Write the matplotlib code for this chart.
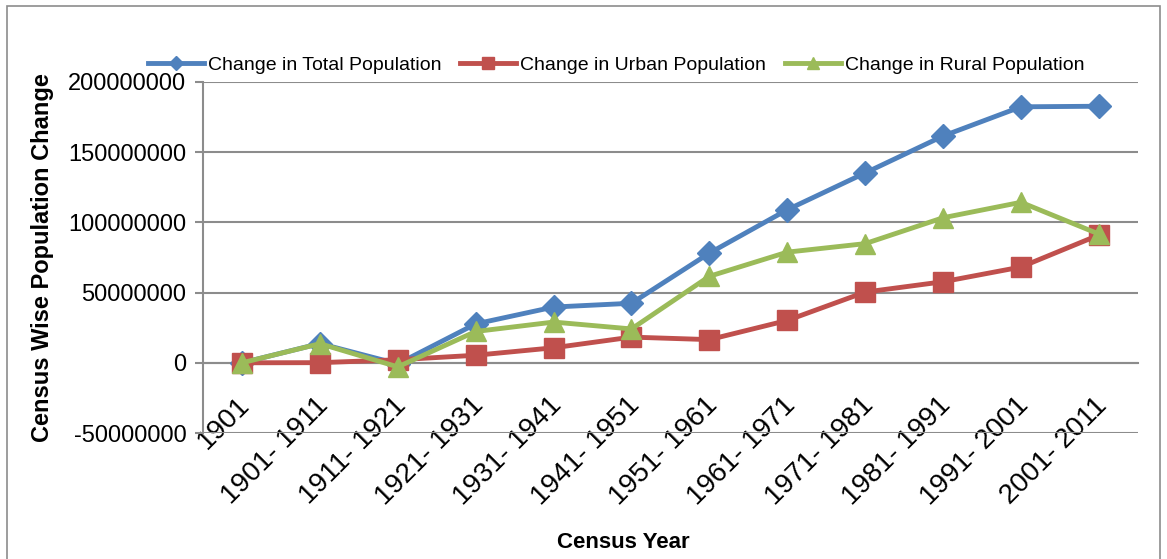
import matplotlib.pyplot as plt
import matplotlib.transforms as mtransforms
from matplotlib.patches import Rectangle
from matplotlib.ticker import MultipleLocator

plt.rcParams['font.family'] = ['Liberation Sans', 'DejaVu Sans']

# Census periods
years = ["1901", "1901- 1911", "1911- 1921", "1921- 1931", "1931- 1941",
         "1941- 1951", "1951- 1961", "1961- 1971", "1971- 1981",
         "1981- 1991", "1991- 2001", "2001- 2011"]

# population change per decade (persons)
total_change = [0, 13700000, -770000, 27700000, 39700000, 42400000,
                78100000, 109000000, 135200000, 161500000, 182300000,
                182700000]
urban_change = [0, 90000, 2150000, 5370000, 10690000, 18290000,
                16500000, 30170000, 50350000, 57720000, 68200000,
                91000000]
rural_change = [0, 13600000, -2900000, 22300000, 29000000, 24100000,
                61600000, 78800000, 84850000, 103300000, 114300000,
                91700000]

blue = "#4F81BD"
red = "#C0504D"
green = "#9BBB59"
grey = "#8C8C8C"

fig = plt.figure(figsize=(11.67, 5.59), dpi=100)
ax = fig.add_axes([0.174, 0.2254, 0.801, 0.628])

x = range(len(years))
ax.plot(x, total_change, color=blue, lw=3.5, marker="D", ms=12,
        label="Change in Total Population", zorder=3)
ax.plot(x, urban_change, color=red, lw=3.5, marker="s", ms=14,
        label="Change in Urban Population", zorder=4)
ax.plot(x, rural_change, color=green, lw=3.5, marker="^", ms=14,
        label="Change in Rural Population", zorder=5)

ax.set_xlim(-0.5, len(years) - 0.5)
ax.set_ylim(-50000000, 200000000)
ax.yaxis.set_major_locator(MultipleLocator(50000000))
ax.yaxis.set_major_formatter(lambda v, p: "%d" % v)
ax.grid(axis="y", color=grey, lw=1.5)
ax.set_axisbelow(True)

for s in ["top", "right"]:
    ax.spines[s].set_visible(False)
ax.spines["left"].set_color(grey)
ax.spines["left"].set_linewidth(1.5)
ax.spines["bottom"].set_position(("data", 0))
ax.spines["bottom"].set_color(grey)
ax.spines["bottom"].set_linewidth(1.5)

ax.tick_params(axis="y", labelsize=17, length=6, width=1.5, color=grey,
               direction="out", pad=6)
ax.set_xticks(list(x))
ax.set_xticklabels(years, rotation=45, ha="right", va="center",
                   rotation_mode="anchor", fontsize=20)
ax.tick_params(axis="x", length=0, pad=28)
shift = mtransforms.ScaledTranslation(4 / 100, 0, fig.dpi_scale_trans)
for lab in ax.get_xticklabels():
    lab.set_transform(lab.get_transform() + shift)

ax.set_ylabel("Census Wise Population Change", fontsize=17,
              fontweight="bold", labelpad=10)
fig.text(0.534, 0.029, "Census Year", fontsize=16, fontweight="bold",
         ha="center", va="center")

ax.legend(loc="center", bbox_to_anchor=(0.528, 0.883),
          bbox_transform=fig.transFigure, ncol=3, frameon=False,
          fontsize=14, handlelength=2.9, handletextpad=0.2,
          columnspacing=0.95, markerscale=0.6)

fig.patches.append(Rectangle((7 / 1167, -0.05), 1153 / 1167, 1.05 - 6 / 559,
                             transform=fig.transFigure, fill=False,
                             edgecolor=grey, lw=1.2))

fig.savefig("out.png", dpi=100)
